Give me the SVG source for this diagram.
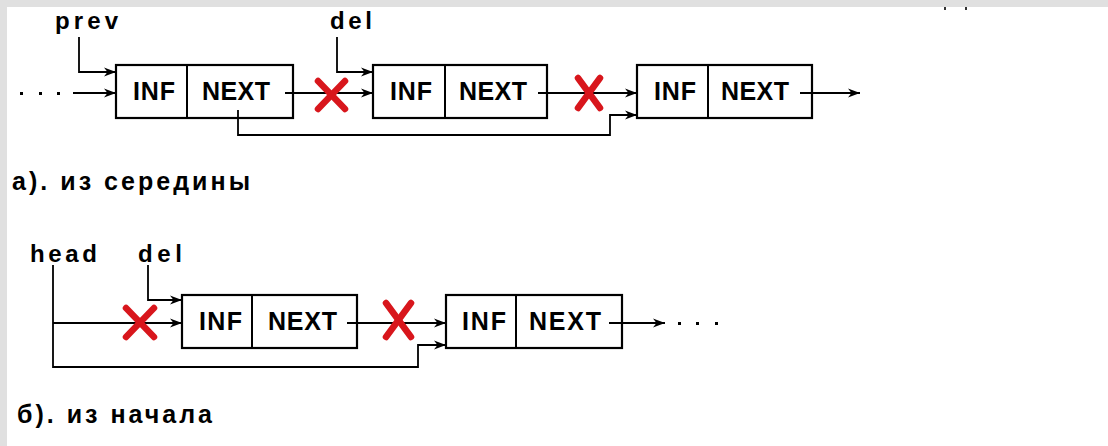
<svg xmlns="http://www.w3.org/2000/svg" width="1108" height="446" viewBox="0 0 1108 446">
  <style>
    .frame { fill: #e0e0e0; }
    .box { fill: #ffffff; stroke: #000; stroke-width: 2.2; }
    .div { stroke: #000; stroke-width: 2; }
    .link { fill: none; stroke: #000; stroke-width: 1.8; }
    .cell { font-family: "Liberation Sans", Arial, sans-serif; font-weight: bold; font-size: 25px; fill: #000; }
    .ptr { font-family: "Liberation Sans", Arial, sans-serif; font-weight: bold; font-size: 24px; fill: #000; }
    .cap { font-family: "Liberation Sans", "DejaVu Sans", sans-serif; font-weight: bold; font-size: 25px; fill: #000; }
    .cross { stroke: #d8161c; stroke-width: 6.5; stroke-linecap: round; }
    .dot { fill: #000; }
  </style>
  <defs>
    <marker id="arr" viewBox="0 0 12 10" refX="12" refY="5" markerWidth="12" markerHeight="10" markerUnits="userSpaceOnUse" orient="auto">
      <path d="M0,0.5 L12,5 L0,9.5 L3.5,5 z" fill="#000"/>
    </marker>
  </defs>

  <!-- page background and frame -->
  <rect x="0" y="0" width="1108" height="446" fill="#ffffff"/>
  <rect class="frame" x="0" y="0" width="1108" height="7"/>
  <rect class="frame" x="0" y="0" width="7" height="446"/>
  <rect x="944" y="7" width="2" height="3" fill="#333"/>
  <rect x="965" y="7" width="2" height="3" fill="#333"/>

  <!-- a) removal from the middle -->
  <g id="label-prev"><text class="ptr" x="55" y="29" textLength="63">prev</text></g>
  <g id="label-del-a"><text class="ptr" x="330" y="29" textLength="42">del</text></g>

  <g id="node-a1">
    <rect class="box" x="116" y="65" width="177" height="53"/>
    <line class="div" x1="187" y1="65" x2="187" y2="118"/>
    <text class="cell" x="133" y="100" textLength="42">INF</text>
    <text class="cell" x="202" y="100" textLength="68">NEXT</text>
  </g>
  <g id="node-a2">
    <rect class="box" x="373" y="65" width="174" height="53"/>
    <line class="div" x1="445" y1="65" x2="445" y2="118"/>
    <text class="cell" x="390" y="100" textLength="42">INF</text>
    <text class="cell" x="459" y="100" textLength="68">NEXT</text>
  </g>
  <g id="node-a3">
    <rect class="box" x="637" y="65" width="175" height="53"/>
    <line class="div" x1="708" y1="65" x2="708" y2="118"/>
    <text class="cell" x="654" y="100" textLength="42">INF</text>
    <text class="cell" x="721" y="100" textLength="68">NEXT</text>
  </g>

  <g id="caption-a"><text class="cap" x="12" y="190" textLength="238">а). из середины</text></g>

  <!-- б) removal from the head -->
  <g id="label-head"><text class="ptr" x="30" y="262" textLength="67">head</text></g>
  <g id="label-del-b"><text class="ptr" x="138" y="262" textLength="44">del</text></g>

  <g id="node-b1">
    <rect class="box" x="182" y="295" width="175" height="53"/>
    <line class="div" x1="252" y1="295" x2="252" y2="348"/>
    <text class="cell" x="199" y="330" textLength="43">INF</text>
    <text class="cell" x="268" y="330" textLength="69">NEXT</text>
  </g>
  <g id="node-b2">
    <rect class="box" x="446" y="295" width="176" height="53"/>
    <line class="div" x1="516" y1="295" x2="516" y2="348"/>
    <text class="cell" x="462" y="330" textLength="44">INF</text>
    <text class="cell" x="529" y="330" textLength="72">NEXT</text>
  </g>

  <g id="caption-b"><text class="cap" x="17" y="423" textLength="195">б). из начала</text></g>

  <!-- connectors -->
  <g id="connectors">
    <!-- a) -->
    <rect class="dot" x="20" y="92" width="3" height="3"/>
    <rect class="dot" x="39" y="92" width="3" height="3"/>
    <rect class="dot" x="57" y="92" width="3" height="3"/>
    <line class="link" x1="73" y1="93" x2="116" y2="93" marker-end="url(#arr)"/>
    <polyline class="link" points="79,37 79,72 116,72" marker-end="url(#arr)"/>
    <polyline class="link" points="337,37 337,72 373,72" marker-end="url(#arr)"/>
    <line class="link" x1="285" y1="93" x2="373" y2="93" marker-end="url(#arr)"/>
    <line class="link" x1="538" y1="93" x2="637" y2="93" marker-end="url(#arr)"/>
    <polyline class="link" points="238,110 238,135 610,135 610,115 637,115" marker-end="url(#arr)"/>
    <line class="link" x1="800" y1="93" x2="860" y2="93" marker-end="url(#arr)"/>
    <!-- б) -->
    <polyline class="link" points="53,265 53,367 418,367 418,345 446,345" marker-end="url(#arr)"/>
    <line class="link" x1="53" y1="323" x2="182" y2="323" marker-end="url(#arr)"/>
    <polyline class="link" points="148,265 148,300 182,300" marker-end="url(#arr)"/>
    <line class="link" x1="347" y1="323" x2="446" y2="323" marker-end="url(#arr)"/>
    <line class="link" x1="609" y1="323" x2="665" y2="323" marker-end="url(#arr)"/>
    <rect class="dot" x="678" y="322" width="3" height="3"/>
    <rect class="dot" x="696" y="322" width="3" height="3"/>
    <rect class="dot" x="715" y="322" width="3" height="3"/>
  </g>

  <!-- broken links -->
  <g id="cross-a1"><line class="cross" x1="318" y1="81" x2="345" y2="109"/><line class="cross" x1="345" y1="81" x2="318" y2="109"/></g>
  <g id="cross-a2"><line class="cross" x1="578" y1="78" x2="600" y2="108"/><line class="cross" x1="600" y1="78" x2="578" y2="108"/></g>
  <g id="cross-b1"><line class="cross" x1="126" y1="308" x2="154" y2="337"/><line class="cross" x1="154" y1="308" x2="126" y2="337"/></g>
  <g id="cross-b2"><line class="cross" x1="386" y1="303" x2="411" y2="337"/><line class="cross" x1="411" y1="303" x2="386" y2="337"/></g>
</svg>
